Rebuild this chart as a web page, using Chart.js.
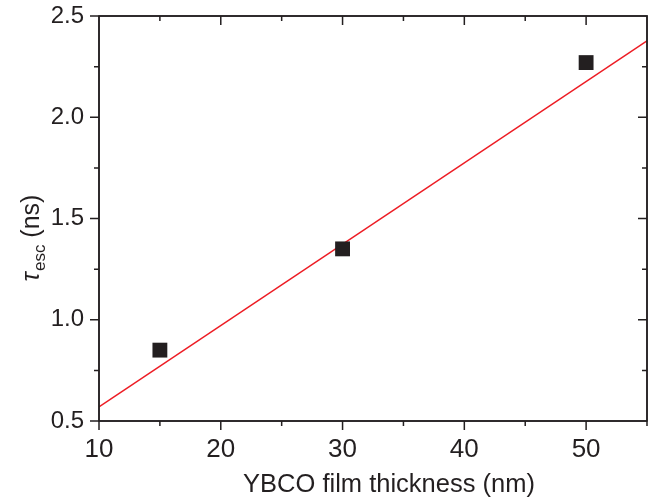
<!DOCTYPE html>
<html>
<head>
<meta charset="utf-8">
<script src="https://cdn.jsdelivr.net/npm/chart.js@4/dist/chart.umd.min.js"></script>
<style>
  html, body { margin: 0; padding: 0; background: #fff; overflow: hidden; }
</style>
</head>
<body>
<canvas id="c" width="648" height="503"></canvas>
<script>
const thickness = [15, 30, 50];
const tauEsc = [0.85, 1.35, 2.27];
const fitX = [10, 55];
const fitY = [0.57, 2.377];
const xTicks = [10, 20, 30, 40, 50];
const yTicks = [0.5, 1.0, 1.5, 2.0, 2.5];

const ink = '#231f20';
const font = 'Arial, "Liberation Sans", sans-serif';

const noPad = s => { s.paddingTop = 0; s.paddingBottom = 0; s.paddingLeft = 0; s.paddingRight = 0; };

// ticks on all four sides, the frame, and both axis titles
const framePlugin = {
  id: 'frame',
  afterDraw(chart) {
    const { ctx, chartArea: a, scales: { x, y } } = chart;
    ctx.save();
    ctx.strokeStyle = ink;
    ctx.lineWidth = 1.5;
    ctx.beginPath();
    ctx.rect(a.left, a.top, a.right - a.left, a.bottom - a.top);
    ctx.stroke();
    for (let v = 10; v <= 55; v += 5) {
      const px = x.getPixelForValue(v);
      const len = v % 10 === 0 ? 9 : 5;
      ctx.moveTo(px, a.bottom); ctx.lineTo(px, a.bottom + len);
      ctx.moveTo(px, a.top); ctx.lineTo(px, a.top + len);
    }
    for (let v = 0.5; v <= 2.5001; v += 0.25) {
      const py = y.getPixelForValue(v);
      const len = Math.round(v * 100) % 50 === 0 ? 9 : 5;
      ctx.moveTo(a.left, py); ctx.lineTo(a.left - len, py);
      ctx.moveTo(a.right, py); ctx.lineTo(a.right - len, py);
    }
    ctx.stroke();

    ctx.fillStyle = ink;
    ctx.textBaseline = 'alphabetic';

    // x axis title
    ctx.font = '25.5px ' + font;
    ctx.textAlign = 'center';
    ctx.fillText('YBCO film thickness (nm)', 389, 492);
    ctx.textAlign = 'left';

    // y axis title: τ_esc (ns)
    ctx.translate(39, 238);
    ctx.rotate(-Math.PI / 2);
    const main = '25px ' + font;
    const ital = 'italic 25px ' + font;
    const sub = '17px ' + font;
    ctx.font = ital; const w1 = ctx.measureText('τ').width + 1;
    ctx.font = sub; const w2 = ctx.measureText('esc').width;
    ctx.font = main; const w3 = ctx.measureText(' (ns)').width;
    let cx = -(w1 + w2 + w3) / 2;
    ctx.font = ital; ctx.fillText('τ', cx, 0); cx += w1;
    ctx.font = sub; ctx.fillText('esc', cx, 6); cx += w2;
    ctx.font = main; ctx.fillText(' (ns)', cx, 0);
    ctx.restore();
  }
};

new Chart(document.getElementById('c').getContext('2d'), {
  type: 'scatter',
  data: {
    datasets: [{
      label: 'tau',
      data: thickness.map((t, i) => ({ x: t, y: tauEsc[i] })),
      pointStyle: 'rect',
      pointRadius: 10.5,
      backgroundColor: ink,
      borderColor: ink,
      borderWidth: 0
    }, {
      label: 'fit',
      type: 'line',
      data: fitX.map((t, i) => ({ x: t, y: fitY[i] })),
      borderColor: '#ed1c24',
      borderWidth: 1.5,
      pointRadius: 0,
      fill: false
    }]
  },
  options: {
    responsive: false,
    animation: false,
    layout: { autoPadding: false, padding: { top: 16, right: 1, left: 0, bottom: 0 } },
    plugins: { legend: { display: false }, tooltip: { enabled: false } },
    scales: {
      x: {
        type: 'linear',
        min: 10, max: 55,
        afterBuildTicks: s => { s.ticks = xTicks.map(v => ({ value: v })); },
        afterFit: s => { s.height = 82; noPad(s); },
        grid: { display: false, drawTicks: false },
        border: { display: false },
        ticks: { color: ink, padding: 13, font: { size: 26, family: font } }
      },
      y: {
        type: 'linear',
        min: 0.5, max: 2.5,
        afterBuildTicks: s => { s.ticks = yTicks.map(v => ({ value: v })); },
        afterFit: s => { s.width = 99; noPad(s); },
        grid: { display: false, drawTicks: false },
        border: { display: false },
        ticks: { color: ink, padding: 15, font: { size: 24, family: font }, callback: v => v.toFixed(1) }
      }
    }
  },
  plugins: [framePlugin]
});
</script>
</body>
</html>
